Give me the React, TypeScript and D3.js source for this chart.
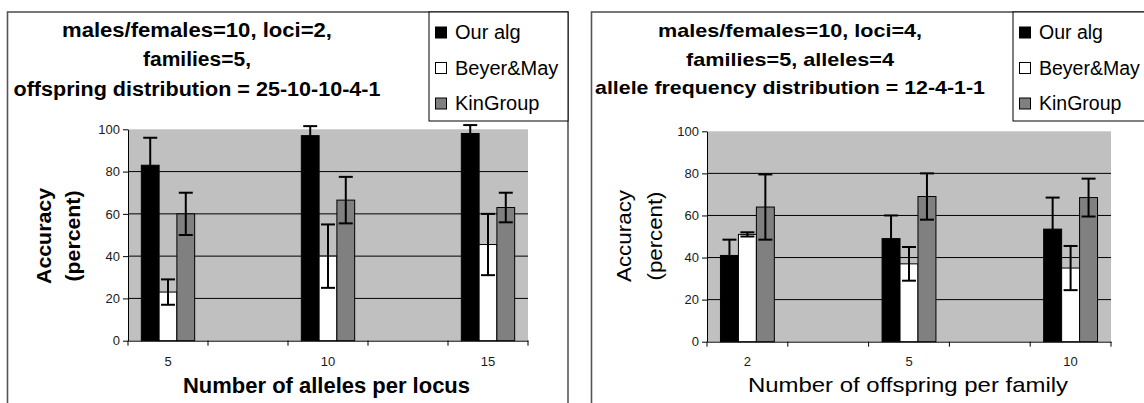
import { useEffect, useRef } from 'react';
import * as d3 from 'd3';

const SERIES = ['Our alg', 'Beyer&May', 'KinGroup'];
const SERIES_FILL = ['#000000', '#ffffff', '#808080'];
const Y_TICKS = [0, 20, 40, 60, 80, 100];

// left chart: accuracy vs number of alleles per locus
const ALLELE_CATS = ['5', '', '10', '', '15'];
const ALLELE_OUR = [83, null, 97, null, 98];
const ALLELE_OUR_ERR = [13, null, 4.5, null, 4];
const ALLELE_BM = [23, null, 40, null, 45.5];
const ALLELE_BM_ERR = [6, null, 15, null, 14.5];
const ALLELE_KIN = [60, null, 66.5, null, 63];
const ALLELE_KIN_ERR = [10, null, 11, null, 7];
const ALLELE_TITLE = ['males/females=10, loci=2,', 'families=5,', 'offspring distribution = 25-10-10-4-1'];

// right chart: accuracy vs number of offspring per family
const OFFSPRING_CATS = ['2', '', '5', '', '10'];
const OFFSPRING_OUR = [41, null, 49, null, 53.5];
const OFFSPRING_OUR_ERR = [7.5, null, 11, null, 15];
const OFFSPRING_BM = [51, null, 37, null, 35];
const OFFSPRING_BM_ERR = [1, null, 8, null, 10.5];
const OFFSPRING_KIN = [64, null, 69, null, 68.5];
const OFFSPRING_KIN_ERR = [15.5, null, 11, null, 9];
const OFFSPRING_TITLE = ['males/females=10, loci=4,', 'families=5, alleles=4', 'allele frequency distribution = 12-4-1-1'];

const FONT = "'Liberation Sans', Arial, sans-serif";

type Panel = {
  cats: string[];
  values: (number | null)[][];
  errors: (number | null)[][];
  title: string[];
  xTitle: string;
  bold: boolean;
  frameX: number;
  frameW: number;
  plot: { x0: number; x1: number; yBottom: number; yTop: number };
  titleX: number;
  titleBase: number[];
  titleLen: number[];
  titleSize: number;
  legendX: number;
  legendW: number;
  legendSize: number;
  yTitleX: number[];
  yTitleLen: number[];
  yTitleSize: number;
  xTitleX: number;
  xTitleY: number;
  xTitleLen: number;
  xTitleSize: number;
  tickPad: number;
};

const PANELS: Panel[] = [
  {
    cats: ALLELE_CATS,
    values: [ALLELE_OUR, ALLELE_BM, ALLELE_KIN],
    errors: [ALLELE_OUR_ERR, ALLELE_BM_ERR, ALLELE_KIN_ERR],
    title: ALLELE_TITLE,
    xTitle: 'Number of alleles per locus',
    bold: true,
    frameX: 7.5,
    frameW: 560.5,
    plot: { x0: 128, x1: 528, yBottom: 340.7, yTop: 129.3 },
    titleX: 197,
    titleBase: [36.5, 66, 95.5],
    titleLen: [270, 108, 367],
    titleSize: 20,
    legendX: 429,
    legendW: 139,
    legendSize: 20,
    yTitleX: [51, 80],
    yTitleLen: [96, 91],
    yTitleSize: 21,
    xTitleX: 326.5,
    xTitleY: 393,
    xTitleLen: 287,
    xTitleSize: 22,
    tickPad: 16,
  },
  {
    cats: OFFSPRING_CATS,
    values: [OFFSPRING_OUR, OFFSPRING_BM, OFFSPRING_KIN],
    errors: [OFFSPRING_OUR_ERR, OFFSPRING_BM_ERR, OFFSPRING_KIN_ERR],
    title: OFFSPRING_TITLE,
    xTitle: 'Number of offspring per family',
    bold: false,
    frameX: 591.5,
    frameW: 600,
    plot: { x0: 707, x1: 1111, yBottom: 341.7, yTop: 131.3 },
    titleX: 790,
    titleBase: [36.5, 66, 94],
    titleLen: [264, 208, 390],
    titleSize: 19,
    legendX: 1013,
    legendW: 160,
    legendSize: 19.5,
    yTitleX: [631, 662],
    yTitleLen: [92, 89],
    yTitleSize: 21,
    xTitleX: 908,
    xTitleY: 392,
    xTitleLen: 320,
    xTitleSize: 21,
    tickPad: 15,
  },
];

function drawPanel(svg: d3.Selection<SVGSVGElement, unknown, null, undefined>, p: Panel) {
  const g = svg.append('g');
  const { x0, x1, yBottom, yTop } = p.plot;

  // outer frame (bottom edge runs off the picture)
  g.append('rect')
    .attr('x', p.frameX).attr('y', 12).attr('width', p.frameW).attr('height', 420)
    .attr('fill', '#fff').attr('stroke', '#555').attr('stroke-width', 1.6);

  const x = d3.scaleBand<number>().domain(d3.range(p.cats.length)).range([x0, x1]);
  const xs = d3.scaleBand<number>().domain(d3.range(SERIES.length)).range([0, x.bandwidth()]).paddingOuter(0.75);
  const y = d3.scaleLinear().domain([0, 100]).range([yBottom, yTop]);

  // plot area
  g.append('rect')
    .attr('x', x0).attr('y', yTop).attr('width', x1 - x0).attr('height', yBottom - yTop)
    .attr('fill', '#c0c0c0');

  g.append('g')
    .selectAll('line')
    .data(Y_TICKS.filter((t) => t > 0 && t < 100))
    .join('line')
    .attr('x1', x0).attr('x2', x1)
    .attr('y1', (d) => y(d)).attr('y2', (d) => y(d))
    .attr('stroke', '#000').attr('stroke-width', 1);

  // bars
  SERIES.forEach((_, si) => {
    p.values[si].forEach((v, ci) => {
      if (v == null) return;
      g.append('rect')
        .attr('x', (x(ci) || 0) + (xs(si) || 0))
        .attr('y', y(v))
        .attr('width', xs.bandwidth())
        .attr('height', y(0) - y(v))
        .attr('fill', SERIES_FILL[si])
        .attr('stroke', '#000')
        .attr('stroke-width', 1);
    });
  });

  // error bars
  SERIES.forEach((_, si) => {
    p.values[si].forEach((v, ci) => {
      const e = p.errors[si][ci];
      if (v == null || e == null) return;
      const cx = (x(ci) || 0) + (xs(si) || 0) + xs.bandwidth() / 2;
      const eg = g.append('g').attr('stroke', '#000').attr('stroke-width', 2);
      eg.append('line').attr('x1', cx).attr('x2', cx).attr('y1', y(v - e)).attr('y2', y(v + e));
      [v - e, v + e].forEach((ev) => {
        eg.append('line').attr('x1', cx - 7).attr('x2', cx + 7).attr('y1', y(ev)).attr('y2', y(ev));
      });
    });
  });

  // y axis
  const ya = g.append('g').attr('transform', `translate(${x0},0)`)
    .call(d3.axisLeft(y).tickValues(Y_TICKS).tickSize(5).tickSizeOuter(0).tickPadding(3));
  ya.select('.domain').attr('stroke', '#000');
  ya.selectAll('.tick line').attr('stroke', '#000');
  ya.selectAll('text').attr('font-family', FONT).attr('font-size', '13px').attr('fill', '#1a1a1a');

  // x axis: labels at category centres, ticks on category boundaries
  const xa = g.append('g').attr('transform', `translate(0,${yBottom})`)
    .call(d3.axisBottom(x).tickFormat((i) => p.cats[i as number]).tickSize(0).tickSizeOuter(0).tickPadding(p.tickPad));
  xa.select('.domain').attr('stroke', '#000');
  xa.selectAll('text').attr('font-family', FONT).attr('font-size', '13px').attr('fill', '#1a1a1a');
  xa.selectAll('.bound')
    .data(d3.range(p.cats.length + 1))
    .join('line')
    .attr('class', 'bound')
    .attr('x1', (i) => x0 + i * x.step()).attr('x2', (i) => x0 + i * x.step())
    .attr('y1', 0).attr('y2', 5)
    .attr('stroke', '#000');

  // titles
  const weight = p.bold ? 'bold' : 'normal';
  p.title.forEach((line, i) => {
    g.append('text')
      .attr('x', p.titleX).attr('y', p.titleBase[i])
      .attr('text-anchor', 'middle')
      .attr('font-family', FONT).attr('font-size', p.titleSize).attr('font-weight', 'bold')
      .attr('textLength', p.titleLen[i]).attr('lengthAdjust', 'spacingAndGlyphs')
      .text(line);
  });

  ['Accuracy', '(percent)'].forEach((t, i) => {
    g.append('text')
      .attr('transform', `translate(${p.yTitleX[i]},236) rotate(-90)`)
      .attr('text-anchor', 'middle')
      .attr('font-family', FONT).attr('font-size', p.yTitleSize).attr('font-weight', weight)
      .attr('textLength', p.yTitleLen[i]).attr('lengthAdjust', 'spacingAndGlyphs')
      .text(t);
  });

  g.append('text')
    .attr('x', p.xTitleX).attr('y', p.xTitleY)
    .attr('text-anchor', 'middle')
    .attr('font-family', FONT).attr('font-size', p.xTitleSize).attr('font-weight', weight)
    .attr('textLength', p.xTitleLen).attr('lengthAdjust', 'spacingAndGlyphs')
    .text(p.xTitle);

  // legend
  const lg = g.append('g');
  lg.append('rect')
    .attr('x', p.legendX).attr('y', 12).attr('width', p.legendW).attr('height', 109)
    .attr('fill', '#fff').attr('stroke', '#000').attr('stroke-width', 1);
  const baselines = [39, 74.5, 110];
  SERIES.forEach((name, si) => {
    lg.append('rect')
      .attr('x', p.legendX + 6.5).attr('y', baselines[si] - 12)
      .attr('width', 11).attr('height', 11)
      .attr('fill', SERIES_FILL[si]).attr('stroke', '#000').attr('stroke-width', 1);
    lg.append('text')
      .attr('x', p.legendX + 26).attr('y', baselines[si])
      .attr('font-family', FONT).attr('font-size', p.legendSize)
      .text(name);
  });
}

export default function App() {
  const svgRef = useRef<SVGSVGElement>(null);

  useEffect(() => {
    const el = svgRef.current;
    if (!el) return;
    const svg = d3.select(el);
    svg.selectAll('*').remove();
    svg.append('rect').attr('width', 1144).attr('height', 403).attr('fill', '#fff');
    PANELS.forEach((p) => drawPanel(svg, p));
  }, []);

  return (
    <svg
      ref={svgRef}
      width={1144}
      height={403}
      style={{ position: 'absolute', left: 0, top: 0, display: 'block' }}
    />
  );
}
